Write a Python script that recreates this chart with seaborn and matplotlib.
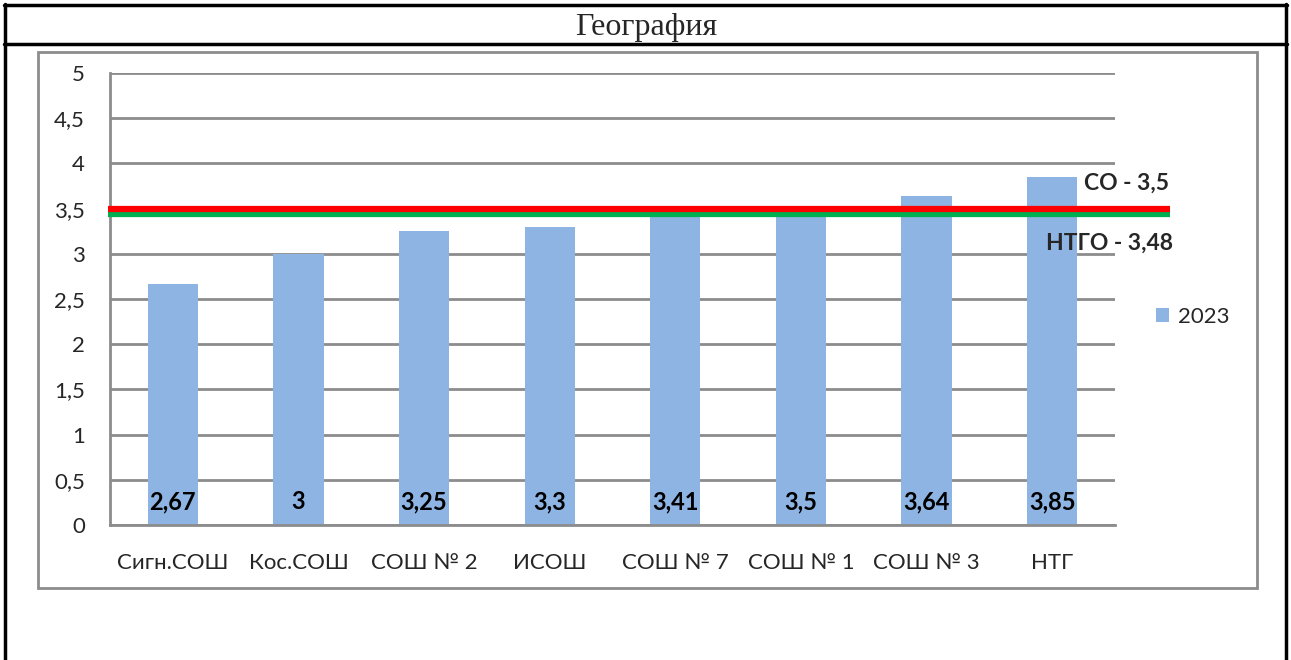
import matplotlib
matplotlib.use("Agg")
import matplotlib.pyplot as plt
from matplotlib.patches import Rectangle, Patch
from matplotlib.lines import Line2D
import pandas as pd
import seaborn as sns

# data
schools = ["Сигн.СОШ", "Кос.СОШ", "СОШ № 2", "ИСОШ", "СОШ № 7", "СОШ № 1", "СОШ № 3", "НТГ"]
scores = [2.67, 3.0, 3.25, 3.3, 3.41, 3.5, 3.64, 3.85]
score_labels = ["2,67", "3", "3,25", "3,3", "3,41", "3,5", "3,64", "3,85"]
so_value = 3.5
ntgo_value = 3.48
ntgo_line = 3.44   # where the green line actually sits in the picture
yticks = [0, 0.5, 1, 1.5, 2, 2.5, 3, 3.5, 4, 4.5, 5]
ytick_labels = ["0", "0,5", "1", "1,5", "2", "2,5", "3", "3,5", "4", "4,5", "5"]

df = pd.DataFrame({"school": schools, "score": scores})

sns.set_theme(style="white")
plt.rcParams["font.family"] = ["Lato", "DejaVu Sans"]

W, H = 1291, 660
fig = plt.figure(figsize=(W / 100, H / 100), dpi=100)
fig.patch.set_facecolor("white")

def fx(px):
    return px / W

def fy(py):
    return 1 - py / H

# table frame around the chart
for x in (5, 1286):
    fig.add_artist(Line2D([fx(x), fx(x)], [0, fy(4)], color="black", lw=2.5))
for y in (5, 44):
    fig.add_artist(Line2D([fx(4), fx(1287)], [fy(y), fy(y)], color="black", lw=2.5))
fig.text(fx(646), fy(27), "География", ha="center", va="center", fontsize=23,
         family=["Liberation Serif", "DejaVu Serif"])

# chart box
fig.add_artist(Rectangle((fx(38), fy(588)), fx(1257 - 38), (588 - 52) / H,
                         fill=False, edgecolor="#8c8c8c", lw=2))

ax = fig.add_axes([fx(110), fy(525), fx(1115 - 110), (525 - 73) / H])
sns.barplot(data=df, x="school", y="score", color="#8EB4E3", width=0.4,
            saturation=1, linewidth=0, edgecolor="none", ax=ax, zorder=2)

ax.set_ylim(0, 5)
ax.set_xlim(-0.5, len(schools) - 0.5)
ax.set_xlabel("")
ax.set_ylabel("")
ax.set_yticks(yticks)
ax.set_yticklabels(ytick_labels)
ax.yaxis.grid(True, color="#8c8c8c", lw=2, zorder=0)
ax.set_axisbelow(True)
for s in ("top", "right"):
    ax.spines[s].set_visible(False)
for s in ("left", "bottom"):
    ax.spines[s].set_color("#8c8c8c")
    ax.spines[s].set_linewidth(2)

ax.tick_params(axis="x", length=0, pad=20, labelsize=16, labelcolor="#262626")
ax.set_xticks([i - 0.5 for i in range(len(schools) + 1)], minor=True)
ax.tick_params(axis="x", which="minor", length=7, width=2, color="#8c8c8c", direction="out")
ax.tick_params(axis="y", length=6, width=2, color="#8c8c8c", direction="out",
               labelsize=16, labelcolor="#262626", pad=12)

# value labels at the bottom of the bars
for i, lab in enumerate(score_labels):
    ax.text(i, 0.26, lab, ha="center", va="center", fontsize=17,
            fontweight="bold", color="black", zorder=4)

# reference lines
ext = (1168 - 108) / (1115 - 110)
ax.axhline(ntgo_line, xmin=-0.002, xmax=ext, color="#00B050", lw=4.5, clip_on=False,
           zorder=3, solid_capstyle="butt")
ax.axhline(so_value, xmin=-0.002, xmax=ext, color="#FF0000", lw=4.5, clip_on=False,
           zorder=3, solid_capstyle="butt")
fig.text(fx(1084), fy(183), "СО - " + f"{so_value:g}".replace(".", ","), ha="left",
         va="center", fontsize=16.5, fontweight="bold")
fig.text(fx(1046), fy(243), "НТГО - " + f"{ntgo_value:g}".replace(".", ","), ha="left",
         va="center", fontsize=16.5, fontweight="bold")

# legend
fig.legend(handles=[Patch(facecolor="#8EB4E3", edgecolor="none", label="2023")],
           loc="center left", bbox_to_anchor=(fx(1136), fy(317)), frameon=False,
           fontsize=16, handlelength=0.6, handleheight=0.6, handletextpad=0.4,
           labelcolor="#262626")

fig.savefig("out.png", dpi=100)
